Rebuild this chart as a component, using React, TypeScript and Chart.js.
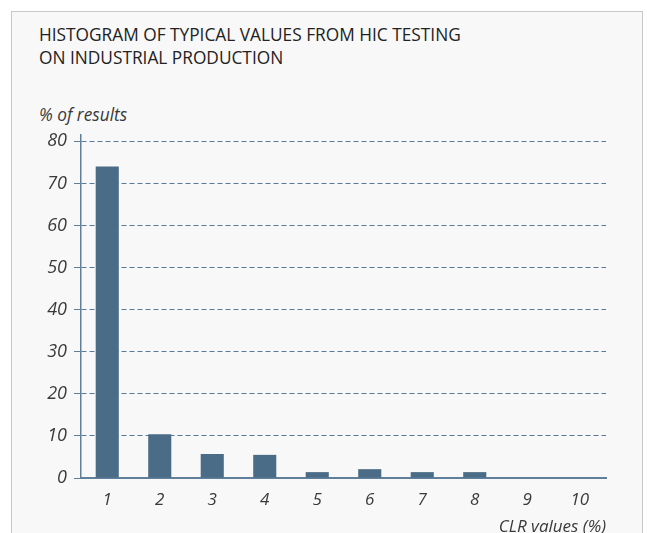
import React, { useEffect, useRef } from "react";
import { Chart, registerables } from "chart.js";

Chart.register(...registerables);

const TITLE_LINES = ["HISTOGRAM OF TYPICAL VALUES FROM HIC TESTING", "ON INDUSTRIAL PRODUCTION"];
const Y_LABEL = "% of results";
const X_LABEL = "CLR values (%)";
const CATEGORIES = ["1", "2", "3", "4", "5", "6", "7", "8", "9", "10"];
const RESULTS = [74, 10.4, 5.7, 5.5, 1.4, 2.1, 1.4, 1.4, 0, 0];
const Y_TICKS = [0, 10, 20, 30, 40, 50, 60, 70, 80];

const FONT = "'Open Sans', sans-serif";
const BAR = "#4b6c87";
const AXIS = "#5f7f9a";
const GRID = "#587a97";
const TEXT = "#3a3a3a";

export default function App() {
  const ref = useRef<HTMLCanvasElement | null>(null);

  useEffect(() => {
    document.body.style.margin = "0";
    const canvas = ref.current;
    if (!canvas) return;
    const chart = new Chart(canvas, {
      type: "bar",
      data: {
        labels: CATEGORIES,
        datasets: [
          {
            data: RESULTS,
            backgroundColor: BAR,
            borderWidth: 0,
            barPercentage: 0.44,
            categoryPercentage: 1,
          },
        ],
      },
      options: {
        animation: false,
        responsive: false,
        maintainAspectRatio: false,
        layout: { padding: { top: 135, right: 41, bottom: 0, left: 0 } },
        plugins: { legend: { display: false }, tooltip: { enabled: false }, title: { display: false } },
        scales: {
          x: {
            grid: { display: true, drawOnChartArea: false, drawTicks: false },
            border: { display: true, color: AXIS, width: 2 },
            ticks: {
              padding: 12,
              color: TEXT,
              maxRotation: 0,
              font: { family: FONT, size: 17, style: "italic" },
            },
            title: {
              display: true,
              text: X_LABEL,
              align: "end",
              color: TEXT,
              padding: { top: 0, bottom: -4 },
              font: { family: FONT, size: 17, style: "italic" },
            },
            afterFit: (scale: any) => {
              scale.height = 55;
            },
          },
          y: {
            min: 0,
            max: 81.5,
            afterBuildTicks: (scale: any) => {
              scale.ticks = Y_TICKS.map((v) => ({ value: v }));
            },
            afterFit: (scale: any) => {
              scale.width = 81;
            },
            grid: {
              color: (ctx: any) => (ctx.tick && ctx.tick.value === 0 ? "rgba(0,0,0,0)" : GRID),
              tickColor: AXIS,
              lineWidth: 1,
              tickBorderDash: [],
              tickLength: 7,
              drawTicks: true,
            },
            border: { display: true, color: AXIS, width: 1.5, dash: [5, 3] },
            ticks: {
              padding: 7,
              color: TEXT,
              font: { family: FONT, size: 18, style: "italic" },
            },
          },
        },
      },
    });
    return () => chart.destroy();
  }, []);

  return (
    <div style={{ position: "relative", width: 647, height: 533, background: "#fff", overflow: "hidden" }}>
      <div
        style={{
          position: "absolute",
          left: 11,
          top: 11,
          width: 630,
          height: 560,
          background: "#f8f8f8",
          border: "1px solid #c8c8c8",
        }}
      />
      <div
        style={{
          position: "absolute",
          left: 39,
          top: 24,
          fontFamily: FONT,
          fontSize: 17.3,
          lineHeight: "22.6px",
          color: "#222",
          whiteSpace: "nowrap",
        }}
      >
        {TITLE_LINES.map((l) => (
          <div key={l}>{l}</div>
        ))}
      </div>
      <div
        style={{
          position: "absolute",
          left: 39,
          top: 103,
          fontFamily: FONT,
          fontSize: 17.3,
          fontStyle: "italic",
          lineHeight: "24px",
          color: TEXT,
          whiteSpace: "nowrap",
        }}
      >
        {Y_LABEL}
      </div>
      <canvas ref={ref} width={647} height={533} style={{ position: "absolute", left: 0, top: 0 }} />
    </div>
  );
}
